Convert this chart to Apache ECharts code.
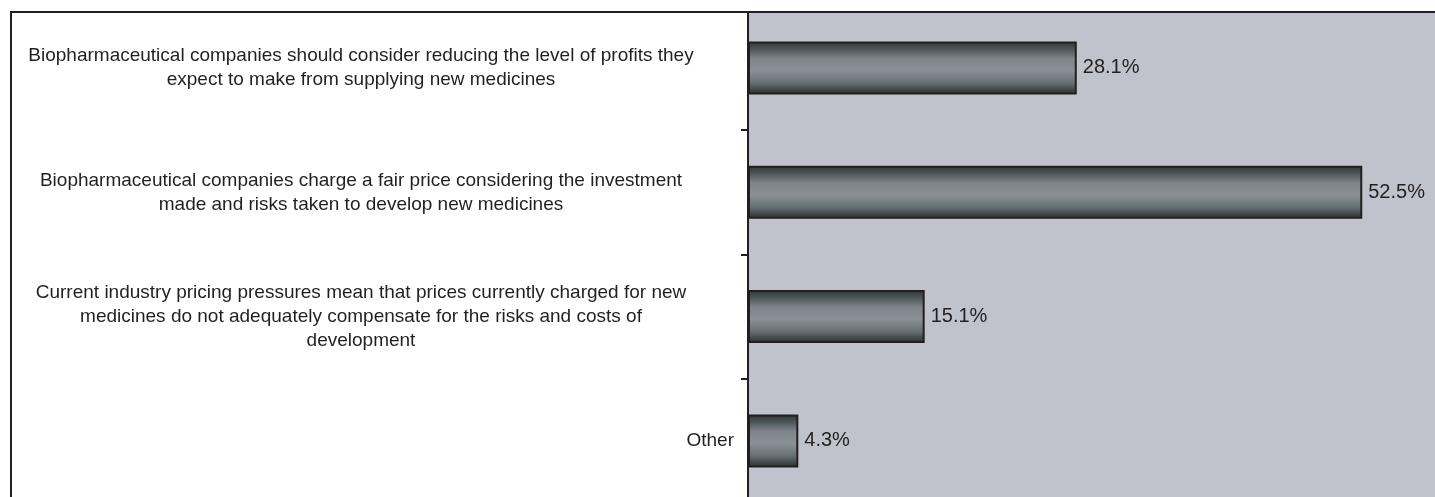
<!DOCTYPE html>
<html>
<head>
<meta charset="utf-8">
<script src="https://cdn.jsdelivr.net/npm/echarts@6/dist/echarts.min.js"></script>
<style>
html,body{margin:0;padding:0;background:#fff;}
#chart{width:1435px;height:497px;}
</style>
</head>
<body>
<div id="chart"></div>
<script>
var categories = [
  "Biopharmaceutical companies should consider reducing the level of profits they\nexpect to make from supplying new medicines",
  "Biopharmaceutical companies charge a fair price considering the investment\nmade and risks taken to develop new medicines",
  "Current industry pricing pressures mean that prices currently charged for new\nmedicines do not adequately compensate for the risks and costs of\ndevelopment",
  "Other"
];
var values = [28.1, 52.5, 15.1, 4.3];

var chart = echarts.init(document.getElementById('chart'));
var barGradient = new echarts.graphic.LinearGradient(0, 0, 0, 1, [
  {offset: 0, color: '#30363'+'7'},
  {offset: 0.12, color: '#475052'},
  {offset: 0.32, color: '#7d848a'},
  {offset: 0.55, color: '#8a9096'},
  {offset: 0.78, color: '#667073'},
  {offset: 0.93, color: '#3c4244'},
  {offset: 1, color: '#2e3334'}
]);
chart.setOption({
  animation: false,
  backgroundColor: '#ffffff',
  grid: {
    left: 748, top: 5.8, width: 702, height: 497.3,
    outerBoundsMode: 'none', containLabel: false,
    show: true, backgroundColor: '#C0C3CB', borderWidth: 0
  },
  xAxis: {
    type: 'value', min: 0, max: 60,
    show: false
  },
  yAxis: {
    type: 'category', inverse: true, data: categories,
    axisLine: {show: true, lineStyle: {color: '#231f20', width: 2}},
    axisTick: {show: true, inside: false, length: 7, lineStyle: {color: '#231f20', width: 2}},
    axisLabel: {
      margin: 14,
      fontFamily: 'Liberation Sans, Arial, sans-serif',
      fontSize: 19,
      color: '#231f20',
      lineHeight: 24,
      formatter: function (v) {
        if (v.indexOf('\n') < 0) return v;
        return v.split('\n').map(function (s) { return '{c|' + s + '}'; }).join('\n');
      },
      rich: {
        c: {width: 746, align: 'center', fontSize: 19, lineHeight: 24,
            fontFamily: 'Liberation Sans, Arial, sans-serif', color: '#231f20'}
      }
    }
  },
  series: [{
    type: 'bar',
    data: values,
    barWidth: 53,
    itemStyle: {color: barGradient, borderColor: '#231f20', borderWidth: 2},
    label: {
      show: true, position: 'right', distance: 6,
      formatter: function (p) { return p.value.toFixed(1) + '%'; },
      fontFamily: 'Liberation Sans, Arial, sans-serif',
      fontSize: 20, color: '#231f20'
    }
  }],
  graphic: [
    {type: 'rect', z: 100, shape: {x: 0, y: 0, width: 1435, height: 11}, style: {fill: '#ffffff'}},
    {type: 'rect', z: 101, shape: {x: 11, y: 12, width: 1500, height: 600},
     style: {fill: 'none', stroke: '#231f20', lineWidth: 2}}
  ]
});
</script>
</body>
</html>
